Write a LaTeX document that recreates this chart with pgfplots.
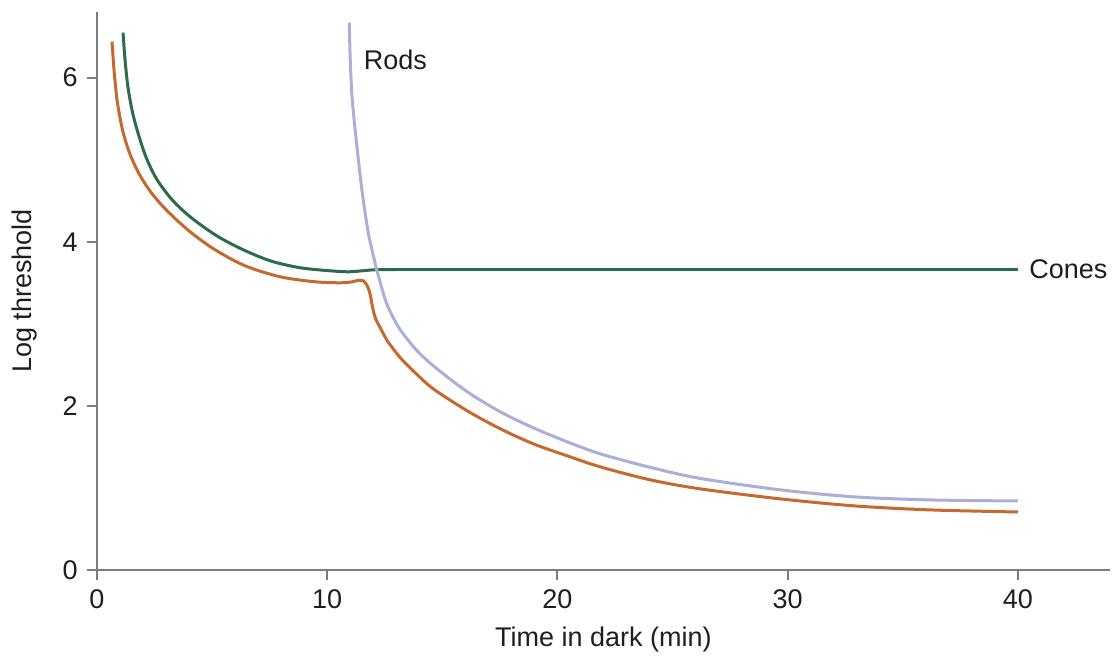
\documentclass[border=0pt]{standalone}
\usepackage{fontspec}
\setmainfont{Liberation Sans}
\usepackage{pgfplots}
\pgfplotsset{compat=1.18}
\definecolor{conesgreen}{RGB}{46,107,75}
\definecolor{mixorange}{RGB}{196,106,46}
\definecolor{rodslav}{RGB}{170,175,215}
\definecolor{axisgray}{RGB}{125,125,125}
\definecolor{textgray}{RGB}{30,30,30}
\begin{document}
\fontsize{13.5}{16}\selectfont
\begin{tikzpicture}
\path[use as bounding box] (-48.5pt,-46pt) rectangle (510pt,285pt);
\begin{axis}[
  at={(0pt,0pt)}, anchor=south west,
  scale only axis, width=506.5pt, height=279pt,
  xmin=0, xmax=44, ymin=0, ymax=6.8,
  axis x line*=bottom, axis y line*=left,
  axis line style={draw=axisgray, line width=1pt},
  xtick={0,10,20,30,40}, ytick={0,2,4,6},
  tick align=outside, major tick length=5pt,
  tick style={draw=axisgray, line width=1pt},
  /pgf/number format/assume math mode=true,
  ticklabel style={font=\fontsize{13.5}{16}\selectfont, text=textgray},
  label style={font=\fontsize{13.5}{16}\selectfont, text=textgray},
  xlabel={Time in dark (min)}, ylabel={Log threshold},
  xlabel style={at={(axis description cs:0.5,-0.1254)}, anchor=center},
  ylabel style={at={(axis description cs:-0.0711,0.5)}, anchor=center},
  clip=false,
]
% Cones
\addplot[conesgreen, line width=1.5pt, smooth, tension=0.5] coordinates {
(1.130,6.549) (1.217,6.220) (1.348,5.878) (1.565,5.549) (1.870,5.244)
(2.174,5.000) (2.609,4.756) (3.261,4.512) (4.043,4.305) (5.130,4.085)
(6.217,3.920) (7.522,3.768) (8.826,3.683) (10.13,3.646) (10.91,3.634)
(11.52,3.646) (12.09,3.659) (13.0,3.659)};
\addplot[conesgreen, line width=1.5pt] coordinates {(13.0,3.659) (40,3.659)};
% Rods
\addplot[rodslav, line width=1.5pt, smooth, tension=0.5] coordinates {
(10.957,6.671) (11.000,6.220) (11.087,5.732) (11.304,5.122) (11.522,4.598)
(11.783,4.110) (12.130,3.683) (12.522,3.293) (12.826,3.098) (13.174,2.927)
(13.826,2.695) (14.609,2.488) (16.087,2.171) (17.522,1.927) (18.957,1.732)
(20.435,1.561) (21.870,1.415) (24.043,1.250) (26.217,1.115) (29.696,0.976)
(32.957,0.890) (36.217,0.854) (40.0,0.841)};
% Combined
\addplot[mixorange, line width=1.5pt, smooth, tension=0.5] coordinates {
(0.652,6.439) (0.739,6.098) (0.870,5.732) (1.087,5.390) (1.391,5.098)
(1.826,4.829) (2.391,4.585) (3.087,4.366) (4.043,4.122) (5.130,3.902)
(6.435,3.707) (7.957,3.573) (9.478,3.512) (10.565,3.500) (11.087,3.512)
(11.348,3.530) (11.565,3.524) (11.739,3.463) (11.870,3.354) (11.957,3.220)
(12.087,3.073) (12.304,2.951) (12.609,2.793) (13.000,2.646) (13.174,2.585)
(13.826,2.402) (14.609,2.207) (16.087,1.939) (17.522,1.720) (18.957,1.537)
(20.435,1.390) (21.870,1.256) (24.043,1.098) (26.217,0.988) (29.696,0.866)
(32.957,0.780) (36.217,0.732) (40.0,0.707)};
\node[anchor=west, inner sep=0pt, text=textgray] at (axis cs:11.57,6.22) {Rods};
\node[anchor=west, inner sep=0pt, text=textgray] at (axis cs:40.48,3.66) {Cones};
\end{axis}
\end{tikzpicture}
\end{document}
